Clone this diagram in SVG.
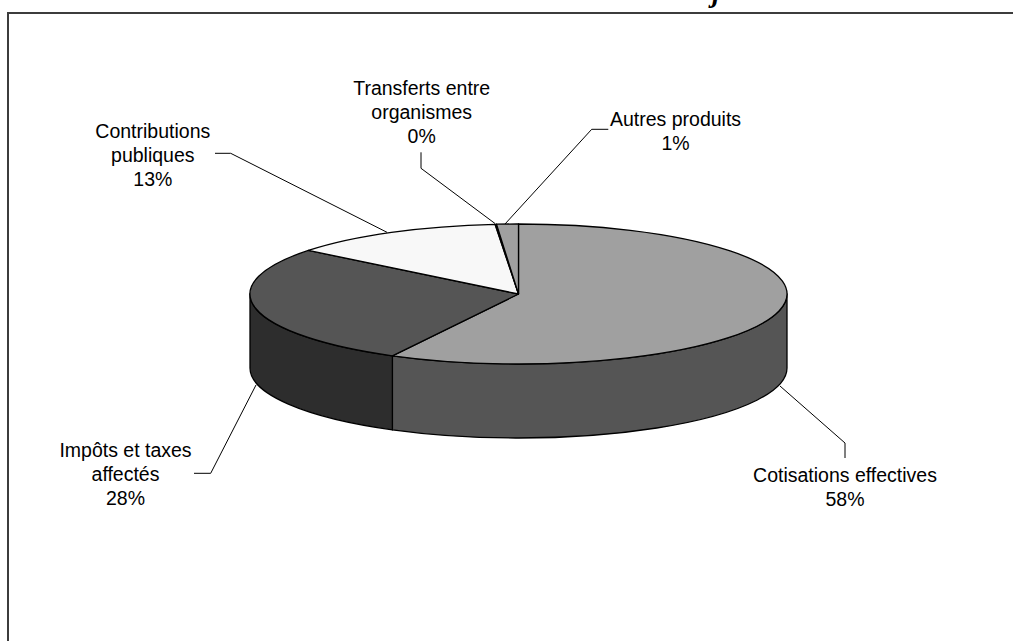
<svg xmlns="http://www.w3.org/2000/svg" width="1013" height="641" viewBox="0 0 1013 641">
<style>
.lbl{font-family:"Liberation Sans",Arial,sans-serif;font-size:19.5px;fill:#000;text-anchor:middle}
.edge{stroke:#000;stroke-width:1.3;stroke-linejoin:round}
.lead{fill:none;stroke:#000;stroke-width:1}
</style>
<rect width="1013" height="641" fill="#fff"/>
<text x="712" y="2" font-family="'Liberation Serif',serif" font-size="28" font-weight="bold" font-style="italic">j</text>
<path d="M8,641 L8,13 L1013,13" fill="none" stroke="#3c3c3c" stroke-width="2"/>
<g id="pie">
<g id="slice-cotisations">
<path class="edge" fill="#555555" d="M787,294 A268.5,70 0 0 1 392.4,355.8 L392.4,429.8 A268.5,70 0 0 0 787,368 Z"/>
<path class="edge" fill="#a0a0a0" d="M518.5,294 L518.5,224 A268.5,70 0 1 1 392.4,355.8 Z"/>
</g>
<g id="slice-impots">
<path class="edge" fill="#2d2d2d" d="M392.4,355.8 A268.5,70 0 0 1 250,294 L250,368 A268.5,70 0 0 0 392.4,429.8 Z"/>
<path class="edge" fill="#555555" d="M518.5,294 L392.4,355.8 A268.5,70 0 0 1 308.4,250.4 Z"/>
</g>
<g id="slice-contributions">
<path class="edge" fill="#f8f8f8" d="M518.5,294 L308.4,250.4 A268.5,70 0 0 1 495.1,224.3 Z"/>
</g>
<g id="slice-transferts">
<path class="edge" fill="#d0d0d0" d="M518.5,294 L495.1,224.3 A268.5,70 0 0 1 496.5,224.2 Z"/>
</g>
<g id="slice-autres">
<path class="edge" fill="#a0a0a0" d="M518.5,294 L496.5,224.2 A268.5,70 0 0 1 518.5,224 Z"/>
</g>
</g>
<g id="connectors">
<polyline class="lead" points="780,386 845,443 845,458"/>
<polyline class="lead" points="256,385 210.7,473.3 194,473.3"/>
<polyline class="lead" points="215,153.3 230.7,153.3 387,232.3"/>
<polyline class="lead" points="421,152.3 421,168.3 495,223.5"/>
<polyline class="lead" points="608.3,129.3 591.7,129.3 505,224"/>
</g>
<g id="label-cotisations">
<text class="lbl" x="845" y="482">Cotisations effectives</text>
<text class="lbl" x="845" y="506">58%</text>
</g>
<g id="label-impots">
<text class="lbl" x="125.5" y="457">Impôts et taxes</text>
<text class="lbl" x="125.5" y="481">affectés</text>
<text class="lbl" x="125.5" y="505">28%</text>
</g>
<g id="label-contributions">
<text class="lbl" x="152.8" y="137.5">Contributions</text>
<text class="lbl" x="152.8" y="161.5">publiques</text>
<text class="lbl" x="152.8" y="185.5">13%</text>
</g>
<g id="label-transferts">
<text class="lbl" x="421.7" y="95">Transferts entre</text>
<text class="lbl" x="421.7" y="119">organismes</text>
<text class="lbl" x="421.7" y="143">0%</text>
</g>
<g id="label-autres">
<text class="lbl" x="675.5" y="125.7">Autres produits</text>
<text class="lbl" x="675.5" y="149.7">1%</text>
</g>
</svg>
